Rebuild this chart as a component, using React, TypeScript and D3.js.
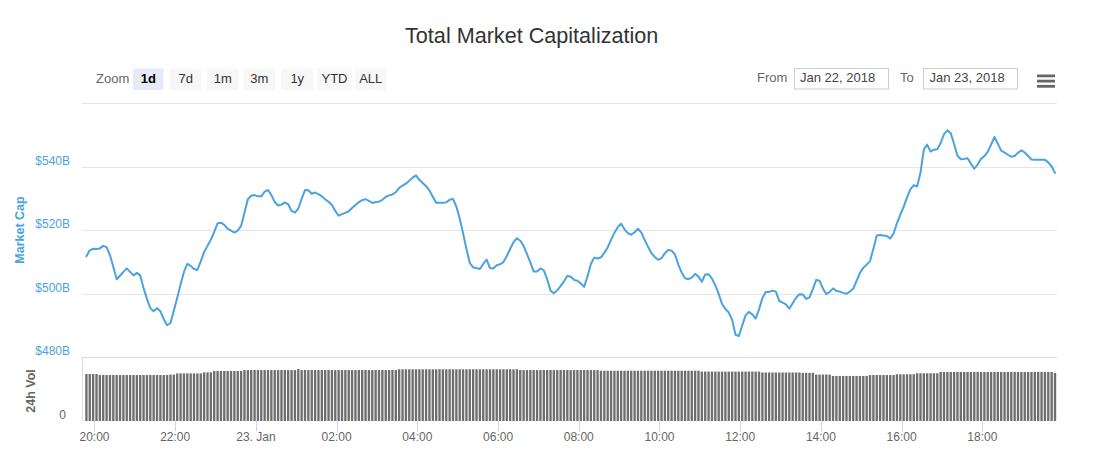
import React from 'react';
import * as d3 from 'd3';

// ---- data ----
const seriesStartUTC = Date.UTC(2018, 0, 22, 19, 48);
const stepMinutes = 5;

// Total market capitalization, $B, every 5 minutes
const marketCap: number[] = [
  511.7, 513.6, 514.1, 514.0, 514.2, 515.0, 514.6, 512.1, 508.4, 504.5,
  505.6, 506.8, 507.9, 506.8, 505.7, 506.5, 505.7, 501.7, 498.3, 495.4,
  494.4, 495.4, 494.4, 491.9, 490.0, 490.7, 494.6, 498.7, 502.8, 506.8,
  509.3, 508.7, 507.7, 507.4, 510.1, 513.1, 515.0, 516.9, 519.4, 522.1,
  522.3, 521.6, 520.4, 519.8, 519.2, 519.8, 521.3, 525.4, 529.7, 530.8,
  531.0, 530.6, 530.6, 532.1, 532.6, 531.0, 528.8, 527.7, 528.0, 528.7,
  528.1, 526.0, 525.5, 526.7, 529.8, 532.6, 532.5, 531.4, 531.8, 531.3,
  530.6, 529.7, 528.9, 527.9, 526.0, 524.5, 525.0, 525.4, 525.9, 526.9,
  527.9, 528.8, 529.4, 529.7, 529.2, 528.5, 528.8, 528.9, 529.5, 530.4,
  530.9, 531.2, 531.9, 533.3, 534.0, 534.6, 535.5, 536.5, 537.2, 535.8,
  534.8, 533.8, 532.4, 530.5, 528.6, 528.6, 528.6, 528.7, 529.5, 529.8,
  527.4, 523.6, 519.0, 514.0, 509.6, 508.2, 508.0, 507.7, 509.3, 510.7,
  508.0, 507.9, 508.9, 509.2, 509.9, 511.8, 514.0, 516.2, 517.4, 516.6,
  515.0, 512.4, 509.8, 506.9, 506.9, 507.9, 507.3, 504.5, 500.9, 500.1,
  501.0, 502.3, 503.8, 505.6, 505.3, 504.3, 504.0, 503.2, 502.1, 505.4,
  509.3, 511.3, 511.0, 511.4, 512.8, 514.5, 516.9, 519.1, 520.9, 522.0,
  520.2, 519.0, 518.5, 519.3, 520.4, 519.2, 516.9, 514.7, 512.7, 511.5,
  510.6, 511.1, 512.7, 513.7, 513.5, 512.3, 509.1, 506.6, 504.8, 504.5,
  505.0, 506.2, 505.3, 503.7, 506.0, 506.1, 504.7, 502.6, 499.9, 496.7,
  495.1, 494.0, 491.7, 487.0, 486.6, 489.9, 493.1, 494.2, 493.4, 492.1,
  495.0, 498.6, 500.5, 500.5, 500.9, 500.6, 497.7, 497.1, 496.6, 495.2,
  496.9, 498.6, 499.8, 499.7, 498.3, 498.8, 501.4, 504.3, 504.0, 501.6,
  499.8, 500.5, 501.6, 500.8, 500.6, 500.2, 499.9, 500.6, 501.5, 504.0,
  506.5, 508.1, 509.1, 510.2, 514.1, 518.3, 518.4, 518.3, 518.1, 517.3,
  518.9, 522.1, 524.8, 527.3, 530.3, 532.8, 534.1, 533.7, 538.0, 545.4,
  546.9, 544.7, 545.3, 545.4, 547.4, 550.2, 551.4, 550.5, 547.1, 543.4,
  542.3, 542.4, 542.6, 540.9, 539.3, 540.6, 542.4, 543.3, 544.6, 546.9,
  549.3, 547.2, 545.0, 544.4, 543.7, 543.1, 543.3, 544.3, 545.1, 544.4,
  543.3, 542.2, 542.1, 542.1, 542.1, 542.1, 541.3, 540.0, 538.0,
];

// 24h volume, $B, every 5 minutes
const volume24h: number[] = [
  36.7, 36.7, 36.7, 36.7, 35.9, 35.9, 35.9, 35.9, 35.9, 35.9,
  35.9, 35.9, 35.9, 35.9, 35.9, 35.9, 35.9, 35.9, 35.9, 35.9,
  35.9, 35.9, 35.9, 35.9, 35.9, 36.3, 36.3, 37.2, 37.2, 37.2,
  37.2, 37.2, 37.2, 37.2, 37.2, 38.0, 38.0, 38.0, 39.1, 39.1,
  39.1, 39.1, 39.1, 39.1, 39.1, 39.1, 39.1, 39.8, 39.8, 39.8,
  39.8, 39.8, 39.8, 39.8, 39.8, 39.8, 39.8, 39.8, 39.8, 39.8,
  39.8, 39.8, 39.8, 40.6, 39.8, 39.8, 39.8, 39.8, 39.8, 39.8,
  39.8, 39.8, 39.8, 39.8, 39.8, 39.8, 39.8, 39.8, 39.8, 39.8,
  39.8, 39.8, 39.8, 39.8, 39.8, 39.8, 39.8, 39.8, 39.8, 39.8,
  39.8, 39.8, 39.8, 40.4, 40.4, 40.4, 40.4, 40.4, 40.4, 40.4,
  40.4, 40.4, 40.4, 40.4, 40.4, 40.4, 40.4, 40.4, 40.4, 40.4,
  40.4, 40.4, 40.4, 40.4, 40.4, 40.4, 40.4, 40.4, 40.4, 40.4,
  40.4, 40.4, 40.4, 40.4, 40.4, 40.4, 40.4, 40.4, 40.4, 39.8,
  39.8, 39.8, 39.8, 39.8, 39.8, 39.8, 39.8, 39.8, 39.8, 39.8,
  39.8, 39.8, 39.8, 39.8, 39.8, 39.8, 39.8, 39.8, 39.8, 39.8,
  39.8, 39.8, 39.8, 39.3, 39.3, 39.3, 39.3, 39.3, 39.3, 39.3,
  39.3, 39.3, 39.3, 39.3, 39.3, 39.3, 39.3, 39.3, 39.3, 39.3,
  39.3, 39.3, 39.3, 39.3, 39.3, 39.3, 39.3, 39.3, 39.3, 39.3,
  39.3, 39.3, 39.3, 38.6, 38.6, 38.6, 38.6, 38.6, 38.6, 38.6,
  38.6, 38.6, 38.6, 38.6, 38.6, 38.6, 38.6, 38.6, 38.6, 38.6,
  38.6, 37.9, 37.9, 37.9, 37.9, 37.9, 37.9, 37.9, 37.9, 37.9,
  37.9, 37.9, 37.9, 37.6, 37.6, 37.6, 37.6, 36.3, 36.3, 36.3,
  36.3, 36.3, 35.2, 35.2, 35.2, 35.2, 35.2, 35.2, 35.2, 35.2,
  35.2, 35.2, 35.2, 35.9, 35.9, 35.9, 35.9, 35.9, 35.9, 35.9,
  35.9, 36.5, 36.5, 36.5, 36.5, 36.5, 36.5, 37.3, 37.3, 37.3,
  37.3, 37.3, 37.3, 37.3, 38.3, 38.3, 38.3, 38.3, 38.3, 38.3,
  38.3, 38.3, 38.3, 38.3, 38.3, 38.3, 38.3, 38.3, 38.3, 38.3,
  38.3, 38.3, 38.3, 38.3, 38.3, 38.3, 38.3, 38.3, 38.3, 38.3,
  38.3, 38.3, 38.3, 38.3, 38.3, 38.3, 38.3, 38.3, 37.6,
];

const priceTicks = [480, 500, 520, 540, 560];
const priceTickLabels = ['$480B', '$500B', '$520B', '$540B', ''];
const priceDomain = [480, 560];
const volumeDomain = [0, 50];
const volumeTickLabels = ['0'];
const zoomButtons = ['1d', '7d', '1m', '3m', '1y', 'YTD', 'ALL'];
const selectedZoom = '1d';
const fromDate = 'Jan 22, 2018';
const toDate = 'Jan 23, 2018';
const chartTitle = 'Total Market Capitalization';
const priceAxisTitle = 'Market Cap';
const volumeAxisTitle = '24h Vol';

// ---- layout ----
const W = 1098;
const H = 455;
const plotL = 82;
const plotR = 1057;
const priceTop = 103;
const priceBottom = 357;
const volTop = 357;
const volBottom = 421;
const lineColor = '#4aa3df';
const labelBlue = '#4aa3df';
const font = '"Liberation Sans", Arial, Helvetica, sans-serif';
const buttonX = [133, 170, 207, 243.5, 281, 317.5, 355];
const buttonW = [30.5, 31.5, 31.5, 31.5, 32.5, 34, 31.5];

export default function App() {
  const times = marketCap.map((_, i) => new Date(seriesStartUTC + i * stepMinutes * 60000));
  const x = d3
    .scaleUtc()
    .domain([times[0], times[times.length - 1]])
    .range([86.4, 1055]);
  const y = d3.scaleLinear().domain(priceDomain).range([priceBottom, priceTop]);
  const yv = d3.scaleLinear().domain(volumeDomain).range([volBottom, volTop]);

  const line = d3
    .line<number>()
    .x((_, i) => x(times[i]))
    .y((d) => y(d));

  const step = x(times[1]) - x(times[0]);
  const barW = step * 0.7;

  const xTicks = x.ticks(d3.utcHour.every(2) as any);
  const fmtTick = (d: Date) =>
    d.getUTCHours() === 0 ? d3.utcFormat('%-d. %b')(d) : d3.utcFormat('%H:%M')(d);

  return (
    <svg
      width={W}
      height={H}
      style={{ position: 'absolute', left: 0, top: 0, background: '#fff' }}
      fontFamily={font}
    >
      <rect x={0} y={0} width={W} height={H} fill="#fff" />
      {/* title */}
      <text x={531.7} y={43.3} textAnchor="middle" fontSize={21.6} fill="#333">
        {chartTitle}
      </text>

      {/* range selector */}
      <text x={96} y={82.5} fontSize={13} fill="#666">
        Zoom
      </text>
      {zoomButtons.map((b, i) => (
        <g key={b}>
          <rect
            x={buttonX[i]}
            y={68.5}
            width={buttonW[i]}
            height={21.5}
            fill={b === selectedZoom ? '#e6ebf5' : '#f7f7f7'}
          />
          <text
            x={buttonX[i] + buttonW[i] / 2}
            y={82.5}
            textAnchor="middle"
            fontSize={13}
            fontWeight={b === selectedZoom ? 'bold' : 'normal'}
            fill={b === selectedZoom ? '#000' : '#333'}
          >
            {b}
          </text>
        </g>
      ))}
      <text x={757} y={82.2} fontSize={13} fill="#666">
        From
      </text>
      <rect x={794.5} y={68.5} width={94} height={20.5} fill="#fff" stroke="#ccc" />
      <text x={800} y={82.2} fontSize={13} fill="#444">
        {fromDate}
      </text>
      <text x={900} y={82.2} fontSize={13} fill="#666">
        To
      </text>
      <rect x={923.5} y={68.5} width={94} height={20.5} fill="#fff" stroke="#ccc" />
      <text x={929.5} y={82.2} fontSize={13} fill="#444">
        {toDate}
      </text>
      {[0, 1, 2].map((k) => (
        <rect key={k} x={1037} y={74.5 + k * 5.2} width={18} height={2.8} fill="#666" />
      ))}

      {/* price gridlines */}
      {priceTicks.map((t) => (
        <line
          key={t}
          x1={plotL}
          x2={plotR}
          y1={Math.round(y(t)) + 0.5}
          y2={Math.round(y(t)) + 0.5}
          stroke="#e6e6e6"
        />
      ))}
      {priceTicks.map((t, i) => (
        <text key={t} x={70} y={y(t) - 2} textAnchor="end" fontSize={12} fill={labelBlue}>
          {priceTickLabels[i]}
        </text>
      ))}
      <text
        transform={`translate(${23.5},${(priceTop + priceBottom) / 2}) rotate(-90)`}
        textAnchor="middle"
        fontSize={12.5}
        fontWeight="bold"
        fill={labelBlue}
      >
        {priceAxisTitle}
      </text>

      {/* volume pane */}
      <line x1={plotL} x2={plotR} y1={volTop + 0.5} y2={volTop + 0.5} stroke="#ddd" />
      <line x1={plotL + 0.5} x2={plotL + 0.5} y1={volTop} y2={volBottom} stroke="#ddd" />
      <text
        transform={`translate(${35},${(volTop + volBottom) / 2 + 2}) rotate(-90)`}
        textAnchor="middle"
        fontSize={12.5}
        fontWeight="bold"
        fill="#666"
      >
        {volumeAxisTitle}
      </text>
      <text x={66} y={yv(0) - 2} textAnchor="end" fontSize={12} fill="#666">
        {volumeTickLabels[0]}
      </text>
      {volume24h.map((v, i) => (
        <rect
          key={i}
          x={x(times[i]) - barW / 2}
          y={yv(v)}
          width={barW}
          height={yv(0) - yv(v)}
          fill="#6e6e6e"
        />
      ))}

      {/* price line */}
      <path
        d={line(marketCap) || ''}
        fill="none"
        stroke={lineColor}
        strokeWidth={2}
        strokeLinejoin="round"
        strokeLinecap="round"
      />

      {/* x axis */}
      {xTicks.map((t) => (
        <g key={+t}>
          <line
            x1={Math.round(x(t)) + 0.5}
            x2={Math.round(x(t)) + 0.5}
            y1={volBottom}
            y2={volBottom + 10}
            stroke="#ccd6eb"
          />
          <text x={x(t)} y={440.5} textAnchor="middle" fontSize={12} fill="#666">
            {fmtTick(t)}
          </text>
        </g>
      ))}
    </svg>
  );
}
